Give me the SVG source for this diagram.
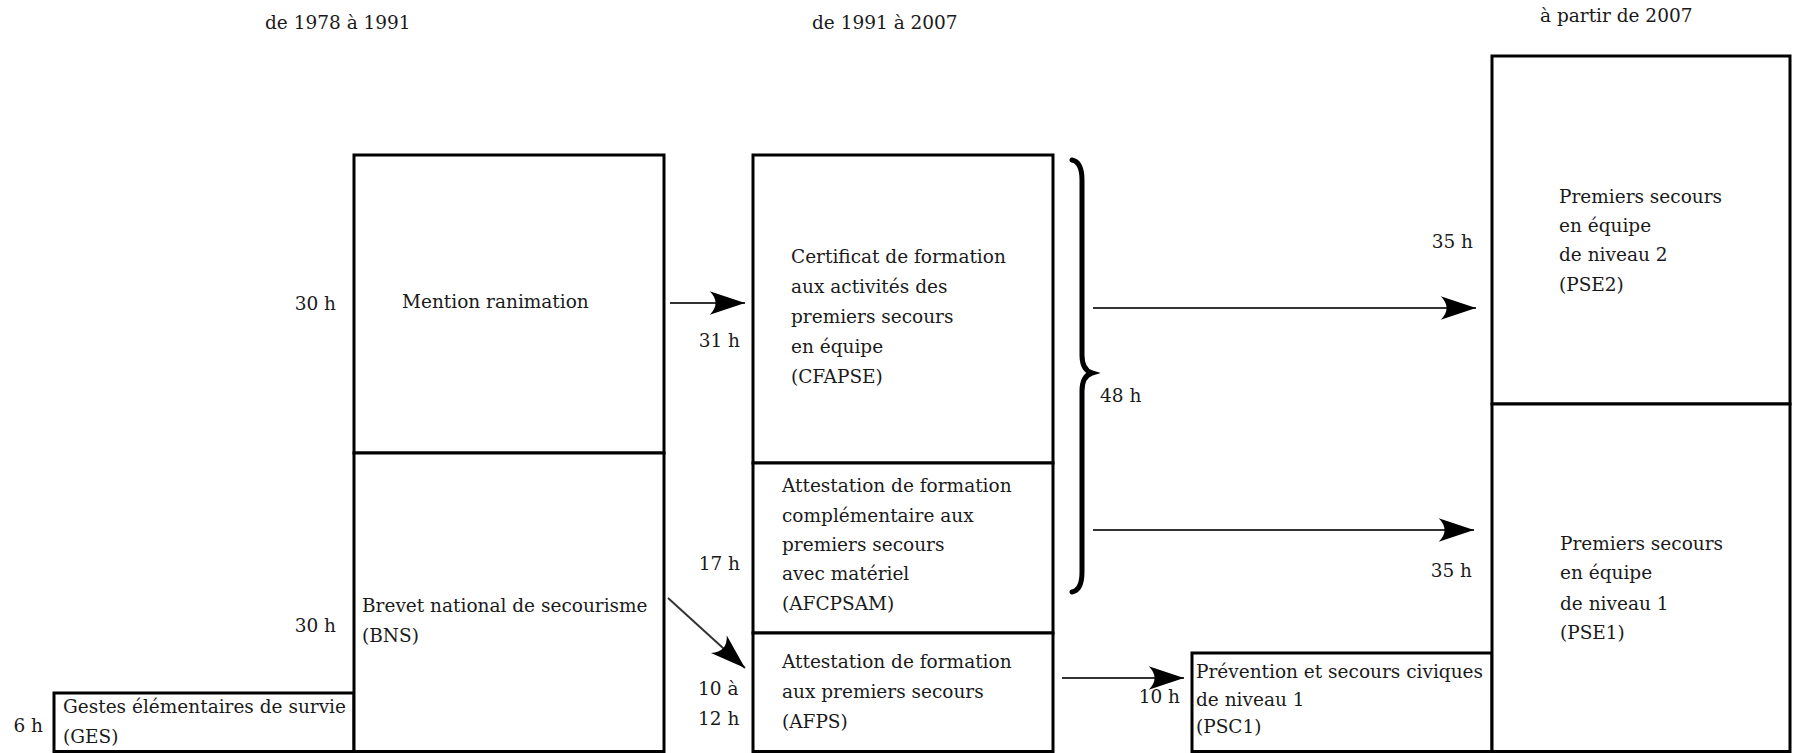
<svg xmlns="http://www.w3.org/2000/svg" width="1793" height="753" viewBox="0 0 1793 753">
<style>
text{font-family:"DejaVu Serif","Liberation Serif",serif;font-size:18.5px;fill:#1a1a1a}
.box{fill:#fff;stroke:#000;stroke-width:3}
.e{text-anchor:end}
.arr{stroke:#333;stroke-width:2;fill:none;marker-end:url(#ah)}
</style>
<defs>
<marker id="ah" markerUnits="userSpaceOnUse" markerWidth="40" markerHeight="30" viewBox="-32 -12 34 24" refX="0" refY="0" orient="auto">
<path d="M0,0 L-30,-10 Q-20,0 -30,10 Z" fill="#000"/>
</marker>
</defs>
<rect width="1793" height="753" fill="#fff"/>
<g id="headers">
<text x="265" y="29">de 1978 à 1991</text>
<text x="812" y="29">de 1991 à 2007</text>
<text x="1540" y="22">à partir de 2007</text>
</g>
<g id="ges">
<rect class="box" x="54" y="693" width="300" height="58.5"/>
<text x="63" y="713">Gestes élémentaires de survie</text>
<text x="63" y="743">(GES)</text>
<text class="e" x="43" y="732">6 h</text>
</g>
<g id="mention">
<rect class="box" x="354" y="155" width="310" height="298"/>
<text x="402" y="308">Mention ranimation</text>
<text class="e" x="336" y="310">30 h</text>
</g>
<g id="bns">
<rect class="box" x="354" y="453" width="310" height="298.5"/>
<text x="362" y="612">Brevet national de secourisme</text>
<text x="362" y="642">(BNS)</text>
<text class="e" x="336" y="632">30 h</text>
</g>
<g id="cfapse">
<rect class="box" x="753" y="155" width="300" height="308"/>
<text x="791" y="263">Certificat de formation</text>
<text x="791" y="293">aux activités des</text>
<text x="791" y="323">premiers secours</text>
<text x="791" y="353">en équipe</text>
<text x="791" y="383">(CFAPSE)</text>
<text class="e" x="740" y="347">31 h</text>
</g>
<g id="afcpsam">
<rect class="box" x="753" y="463" width="300" height="170"/>
<text x="782" y="492">Attestation de formation</text>
<text x="782" y="522">complémentaire aux</text>
<text x="782" y="551">premiers secours</text>
<text x="782" y="580">avec matériel</text>
<text x="782" y="610">(AFCPSAM)</text>
<text class="e" x="740" y="570">17 h</text>
</g>
<g id="afps">
<rect class="box" x="753" y="633" width="300" height="118.5"/>
<text x="782" y="668">Attestation de formation</text>
<text x="782" y="698">aux premiers secours</text>
<text x="782" y="728">(AFPS)</text>
<text x="698" y="695">10 à</text>
<text x="698" y="725">12 h</text>
</g>
<g id="psc1">
<rect class="box" x="1192" y="653" width="300" height="98.5"/>
<text x="1196" y="678">Prévention et secours civiques</text>
<text x="1196" y="706">de niveau 1</text>
<text x="1196" y="733">(PSC1)</text>
<text class="e" x="1180" y="703">10 h</text>
</g>
<g id="pse2">
<rect class="box" x="1492" y="56" width="298" height="348"/>
<text x="1559" y="203">Premiers secours</text>
<text x="1559" y="232">en équipe</text>
<text x="1559" y="261">de niveau 2</text>
<text x="1559" y="291">(PSE2)</text>
<text class="e" x="1473" y="248">35 h</text>
</g>
<g id="pse1">
<rect class="box" x="1492" y="404" width="298" height="347.5"/>
<text x="1560" y="550">Premiers secours</text>
<text x="1560" y="579">en équipe</text>
<text x="1560" y="610">de niveau 1</text>
<text x="1560" y="639">(PSE1)</text>
<text class="e" x="1472" y="577">35 h</text>
</g>
<g id="brace">
<path d="M1072,160 Q1082,162 1082,180 L1082,355 Q1082,370 1092,373 Q1082,376 1082,391 L1082,572 Q1082,590 1072,592" fill="none" stroke="#000" stroke-width="5" stroke-linecap="round"/>
<text x="1100" y="402">48 h</text>
</g>
<g id="connectors">
<line class="arr" x1="670" y1="303" x2="745" y2="303"/>
<line class="arr" x1="668" y1="598" x2="745" y2="668"/>
<line class="arr" x1="1093" y1="308" x2="1476" y2="308"/>
<line class="arr" x1="1093" y1="530" x2="1474" y2="530"/>
<line class="arr" x1="1062" y1="678" x2="1184" y2="678"/>
</g>
</svg>
